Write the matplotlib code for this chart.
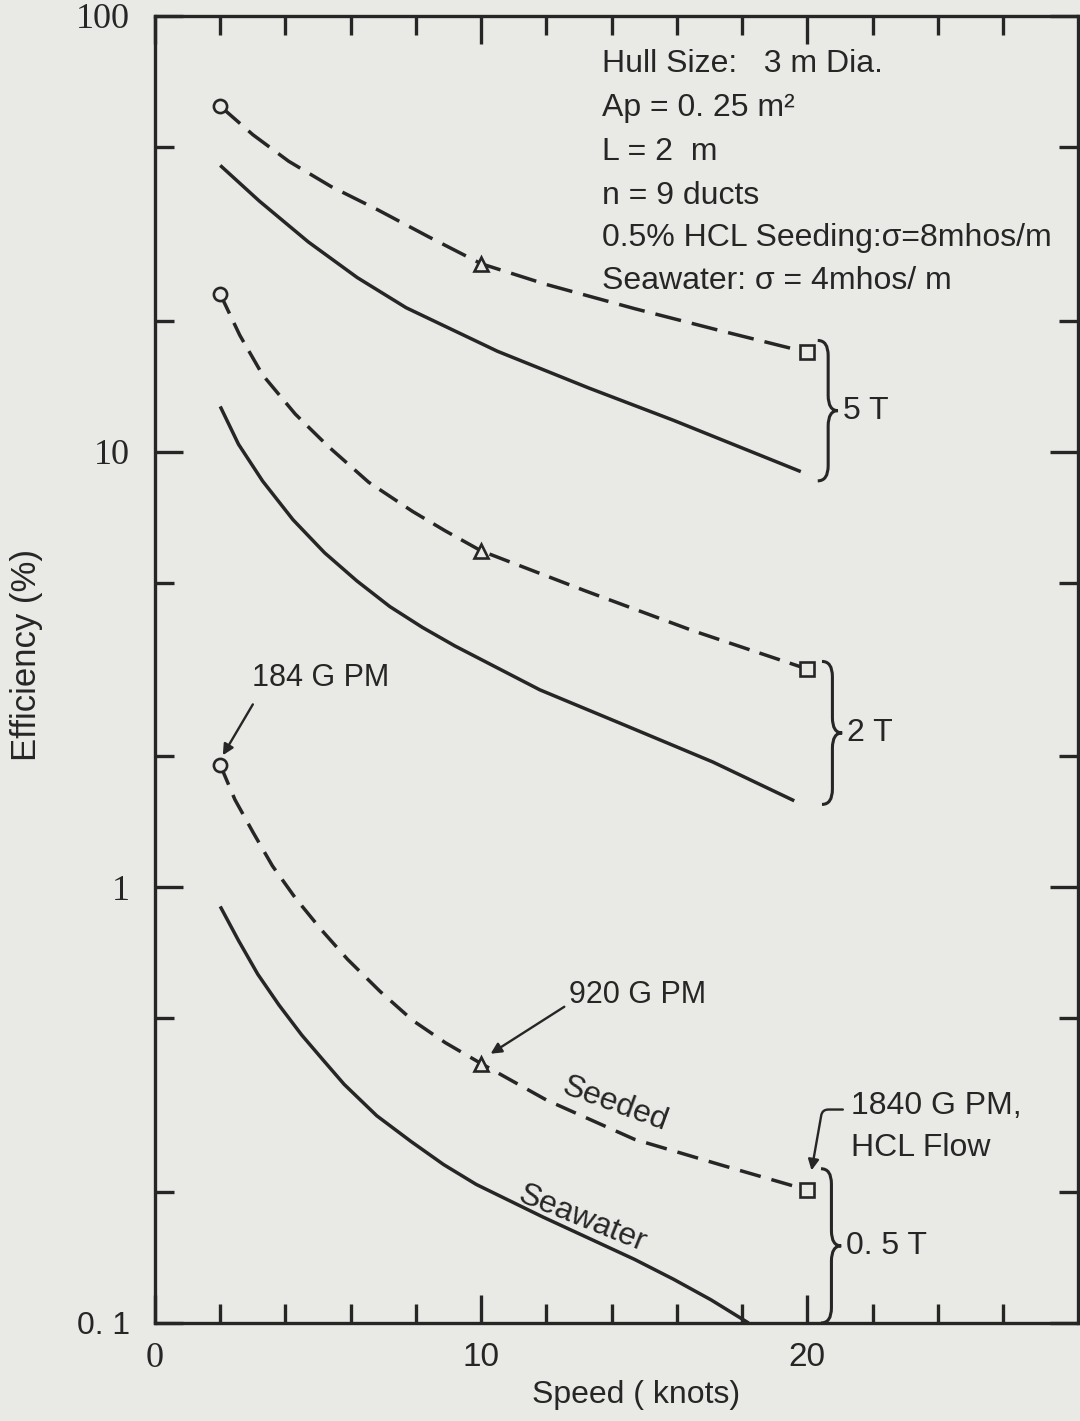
import matplotlib
matplotlib.use("Agg")
import matplotlib.pyplot as plt
from matplotlib.path import Path
from matplotlib.patches import PathPatch
import numpy as np

BG = "#e9eae6"
INK = "#262626"
SANS = ["Liberation Sans", "DejaVu Sans"]
SERIF = ["Liberation Serif", "DejaVu Serif"]

# speed (knots) vs efficiency (%)
seeded_5t_x = [2.0, 3.0, 4.1, 5.4, 6.8, 8.4, 10.0, 12.0, 14.7, 17.4, 20.0]
seeded_5t_y = [62.1, 53.4, 46.4, 40.6, 36.0, 31.1, 27.0, 24.2, 21.3, 18.9, 16.9]
sea_5t_x = [2.0, 3.2, 4.7, 6.2, 7.7, 10.5, 13.3, 15.9, 19.8]
sea_5t_y = [45.4, 37.6, 30.3, 25.1, 21.4, 17.0, 14.0, 11.8, 9.0]

seeded_2t_x = [2.0, 2.6, 3.3, 4.3, 5.3, 6.55, 7.9, 8.9, 10.0, 13.2, 16.5, 20.0]
seeded_2t_y = [23.0, 18.5, 15.0, 12.2, 10.3, 8.51, 7.29, 6.58, 5.92, 4.79, 3.88, 3.17]
sea_2t_x = [2.0, 2.56, 3.3, 4.23, 5.2, 6.19, 7.2, 8.2, 9.2, 11.8, 14.5, 17.1, 19.6]
sea_2t_y = [12.7, 10.4, 8.56, 6.98, 5.86, 5.05, 4.41, 3.95, 3.58, 2.84, 2.34, 1.94, 1.58]

seeded_05t_x = [2.0, 2.45, 3.0, 3.6, 4.3, 5.1, 5.9, 6.9, 7.9, 8.9, 10.0,
                12.0, 14.7, 17.4, 20.0]
seeded_05t_y = [1.91, 1.59, 1.34, 1.12, 0.946, 0.799, 0.684, 0.577, 0.495, 0.440,
                0.394, 0.325, 0.264, 0.230, 0.202]
sea_05t_x = [2.0, 2.56, 3.15, 3.8, 4.5, 5.16, 5.8, 6.8, 7.85, 8.85, 9.85,
             11.9, 14.7, 15.9, 17.05, 18.2]
sea_05t_y = [0.904, 0.755, 0.632, 0.537, 0.458, 0.401, 0.353, 0.299, 0.261, 0.231,
             0.208, 0.175, 0.140, 0.126, 0.113, 0.1]

# HCL flow marker speeds and their symbols
marker_speeds = [2.0, 10.0, 20.0]
marker_shapes = ["o", "^", "s"]

# field strength groups
groups = ["5 T", "2 T", "0. 5 T"]

info_lines = [
    "Hull Size:   3 m Dia.",
    "Ap = 0. 25 m\u00b2",
    "L = 2  m",
    "n = 9 ducts",
    "0.5% HCL Seeding:\u03c3=8mhos/m",
    "Seawater: \u03c3 = 4mhos/ m",
]


def brace(ax, x0, y_top, y_bot, hook=0.32, tip=0.3, h=0.035):
    """curly brace '}' between two y values (log axis)"""
    lt, lb = np.log10(y_top), np.log10(y_bot)
    lm = 0.5 * (lt + lb)
    pts = [
        (x0 - hook, lt), (x0, lt), (x0, lt - h),
        (x0, lm + h),
        (x0, lm), (x0 + tip, lm),
        (x0, lm), (x0, lm - h),
        (x0, lb + h),
        (x0, lb), (x0 - hook, lb),
    ]
    codes = [Path.MOVETO, Path.CURVE3, Path.CURVE3, Path.LINETO,
             Path.CURVE3, Path.CURVE3, Path.CURVE3, Path.CURVE3,
             Path.LINETO, Path.CURVE3, Path.CURVE3]
    verts = [(x, 10 ** l) for x, l in pts]
    ax.add_patch(PathPatch(Path(verts, codes), fill=False, lw=2.2,
                           edgecolor=INK, transform=ax.transData, clip_on=False))
    return 10 ** lm


fig = plt.figure(figsize=(10.8, 14.21), dpi=100, facecolor=BG)
ax = fig.add_axes([155 / 1080, 98 / 1421, 923 / 1080, 1307 / 1421])
ax.set_facecolor(BG)
ax.set_yscale("log")
ax.set_xlim(0, 28.3)
ax.set_ylim(0.1, 100)

series = [
    (seeded_5t_x, seeded_5t_y, sea_5t_x, sea_5t_y, (7.6, 3.2)),
    (seeded_2t_x, seeded_2t_y, sea_2t_x, sea_2t_y, (6.2, 3.0)),
    (seeded_05t_x, seeded_05t_y, sea_05t_x, sea_05t_y, (6.2, 3.2)),
]

for sx, sy, wx, wy, dash in series:
    ax.plot(wx, wy, color=INK, lw=2.5, solid_capstyle="butt",
            solid_joinstyle="round", clip_on=False)
    ax.plot(sx, sy, color=INK, lw=2.5, dashes=dash, dash_capstyle="butt")
    for spd, mk in zip(marker_speeds, marker_shapes):
        i = sx.index(spd)
        ax.plot(sx[i], sy[i], marker=mk, ms=9.5, mfc=BG, mec=INK, mew=1.9,
                ls="none", zorder=5)

# braces and field labels
brace_x = [20.64, 20.77, 20.74]
brace_top = [18.0, 3.30, 0.226]
brace_bot = [8.57, 1.55, 0.1]
for lab, bx, bt, bb in zip(groups, brace_x, brace_top, brace_bot):
    ym = brace(ax, bx, bt, bb)
    ax.text(bx + 0.45, ym, lab, family=SANS, fontsize=23, color=INK,
            ha="left", va="center")

# flow annotations
arrow = dict(arrowstyle="-|>", lw=1.7, color=INK, shrinkA=0, shrinkB=0,
             mutation_scale=16)
ax.text(2.98, 3.02, "184 G PM", family=SANS, fontsize=22, color=INK,
        ha="left", va="center")
ax.annotate("", xy=(2.08, 2.01), xytext=(3.0, 2.63), arrowprops=arrow)

ax.text(12.68, 0.566, "920 G PM", family=SANS, fontsize=22, color=INK,
        ha="left", va="center")
ax.annotate("", xy=(10.29, 0.415), xytext=(12.55, 0.532), arrowprops=arrow)

ax.text(21.33, 0.315, "1840 G PM,", family=SANS, fontsize=23, color=INK,
        ha="left", va="center")
ax.text(21.33, 0.252, "HCL Flow", family=SANS, fontsize=23, color=INK,
        ha="left", va="center")
ax.annotate("", xy=(20.13, 0.224), xytext=(21.09, 0.309),
            arrowprops=dict(arrow, connectionstyle="angle,angleA=0,angleB=80,rad=6"))

# curve labels
ax.text(14.1, 0.318, "Seeded", family=SANS, fontsize=23, color=INK,
        rotation=-20, ha="center", va="center", rotation_mode="anchor")
ax.text(13.1, 0.173, "Seawater", family=SANS, fontsize=23, color=INK,
        rotation=-22, ha="center", va="center", rotation_mode="anchor")

# parameter block
line_y = [64, 108, 152, 196, 238, 281]
for txt, py in zip(info_lines, line_y):
    fig.text(602 / 1080, 1 - py / 1421, txt, family=SANS, fontsize=23,
             color=INK, ha="left", va="center")

# axes styling
for s in ax.spines.values():
    s.set_linewidth(2.4)
    s.set_color(INK)

ax.set_xticks([0, 10, 20])
ax.set_xticks([2, 4, 6, 8, 12, 14, 16, 18, 22, 24, 26], minor=True)
ax.set_xticklabels(["0", "10", "20"])
ax.set_yticks([0.1, 1, 10, 100])
ax.set_yticks([0.2, 0.5, 2, 5, 20, 50], minor=True)
ax.set_yticklabels(["0. 1", "1", "10", "100"])
ax.yaxis.set_minor_formatter(matplotlib.ticker.NullFormatter())
ax.tick_params(which="both", direction="in", top=True, right=True,
               width=2.4, color=INK, labelcolor=INK)
ax.tick_params(which="major", length=20)
ax.tick_params(which="minor", length=14)
ax.tick_params(axis="y", which="major", pad=18, labelsize=26)
ax.tick_params(axis="x", which="major", pad=14, labelsize=24)

for lbl in ax.get_yticklabels():
    if lbl.get_text() == "0. 1":
        lbl.set_family(SANS)
        lbl.set_fontsize(23)
    else:
        lbl.set_family(SERIF)
for lbl in ax.get_xticklabels():
    if lbl.get_text() == "0":
        lbl.set_family(SERIF)
        lbl.set_fontsize(26)
    else:
        lbl.set_family(SANS)

fig.text(27 / 1080, 1 - 655 / 1421, "Efficiency (%)", family=SANS, fontsize=25,
         color=INK, rotation=90, ha="center", va="center")
fig.text(636 / 1080, 1 - 1395 / 1421, "Speed ( knots)", family=SANS, fontsize=23,
         color=INK, ha="center", va="center")

fig.savefig("out.png", dpi=100, facecolor=BG)
